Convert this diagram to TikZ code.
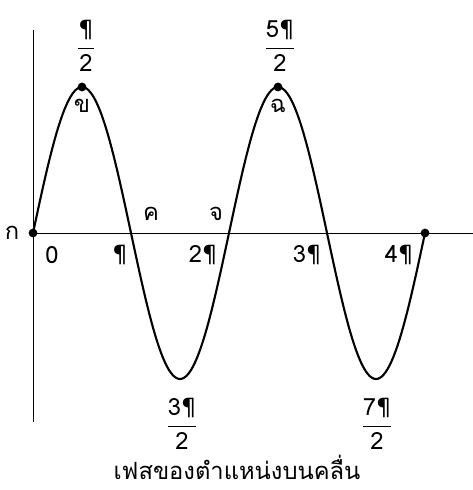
\documentclass[tikz,border=0pt]{standalone}
\usepackage{amsmath}
\usepackage{fontspec}
\setmainfont[Script=Thai]{Loma}
\newfontfamily\symfont{DejaVu Sans}
\usetikzlibrary{positioning}

\newcommand{\pp}{{\symfont ¶}}
\newcommand{\phasefrac}[2]{$\displaystyle\frac{\text{#1}}{\text{#2}}$}

\begin{document}
\begin{tikzpicture}[x=0.02cm, y=-0.02cm, font=\fontsize{13.5}{15}\selectfont,
  dot/.style={circle, fill, inner sep=0pt, minimum size=5pt},
  lbl/.style={inner sep=1pt}]
  \useasboundingbox (0,0) rectangle (473,490);
  % axes
  \coordinate (o) at (33,233);
  \coordinate (ytop) at (33,30);
  \coordinate (ybot) at (33,422);
  \coordinate (xend) at (473,233);
  \draw[thin] (ytop) -- (ybot);
  \draw[thin] (o) -- (xend);
  % wave
  \draw[line width=1.2pt] plot[domain=33:425, samples=200] (\x, {233-146*sin((\x-33)/196*360)});
  % points on the wave
  \node[dot] (ka) at (33,233) {};
  \node[dot] (kho) at (82,87) {};
  \node[dot] (cho) at (278,87) {};
  \node[dot] (end) at (425,233) {};
  % letters
  \node[lbl, left=4pt of ka] {ก};
  \node[lbl, below=3pt of kho] {ข};
  \node[lbl, below=3pt of cho] {ฉ};
  \node[lbl] (kho2) at (151,214) {ค};
  \node[lbl] (cho2) at (216,214) {จ};
  % phase values on the axis
  \node[lbl] (p0) at (52,255) {0};
  \node[lbl] (p1) at (120,255) {\pp};
  \node[lbl] (p2) at (203,255) {2\pp};
  \node[lbl] (p3) at (307,255) {3\pp};
  \node[lbl] (p4) at (399,255) {4\pp};
  \node[lbl] (f1) at (86,46) {\phasefrac{\pp}{2}};
  \node[lbl] (f5) at (280,46) {\phasefrac{5\pp}{2}};
  \node[lbl] (f3) at (182,424) {\phasefrac{3\pp}{2}};
  \node[lbl] (f7) at (377,424) {\phasefrac{7\pp}{2}};
  \node[lbl] (cap) at (237,467) {เฟสของตำแหน่งบนคลื่น};
\end{tikzpicture}
\end{document}
